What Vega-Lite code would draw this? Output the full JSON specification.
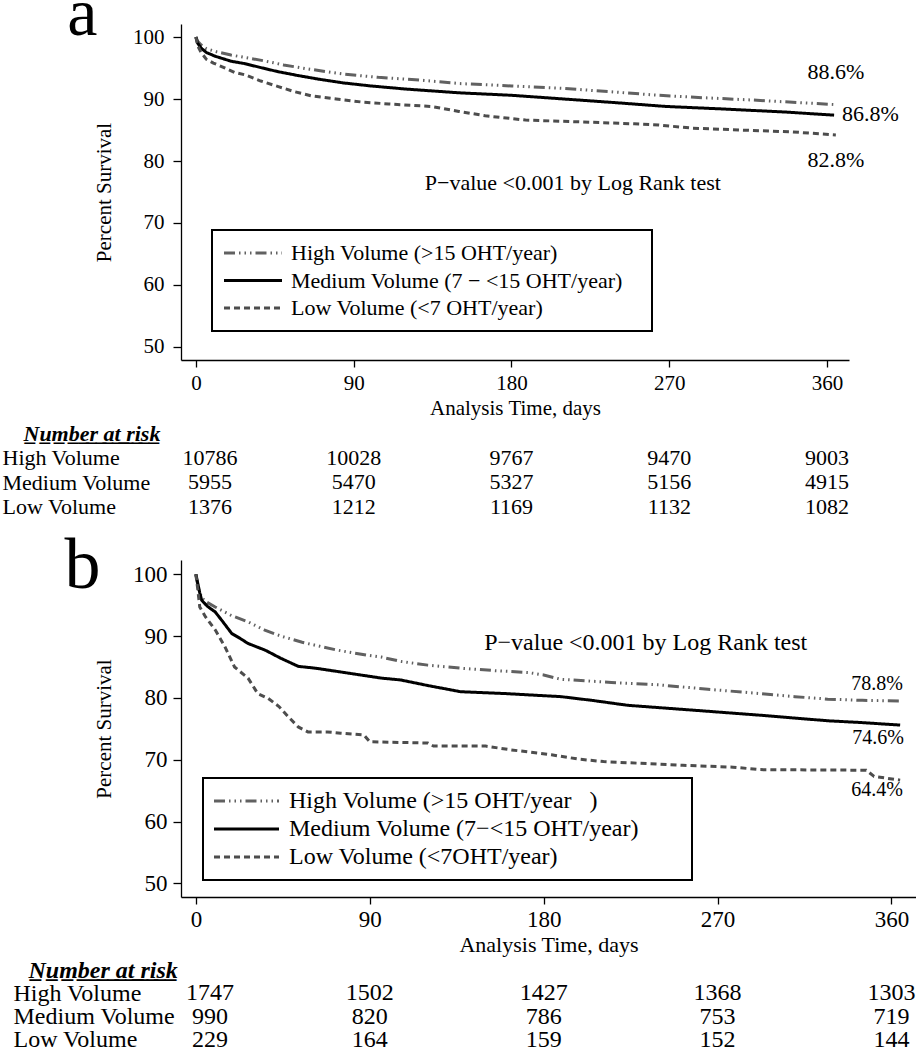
{
  "$schema": "https://vega.github.io/schema/vega-lite/v6.json",
  "padding": {"left": 2, "top": -19, "right": 0, "bottom": 0},
  "spacing": 3,
  "background": "white",
  "config": {
    "font": "Liberation Serif",
    "view": {"stroke": null},
    "axis": {"grid": false, "domainColor": "#000", "domainWidth": 1.3, "tickColor": "#000", "tickWidth": 1.3, "labelColor": "#000", "titleColor": "#000", "labelFont": "Liberation Serif", "titleFont": "Liberation Serif", "titleFontWeight": "normal", "labelFlush": false, "labelOverlap": false},
    "text": {"font": "Liberation Serif", "color": "#000"},
    "legend": {"labelFont": "Liberation Serif", "labelColor": "#000", "strokeColor": "#000", "fillColor": "#fff", "labelLimit": 0, "symbolStrokeWidth": 3, "orient": "none", "direction": "vertical", "symbolSize": 100}
  },
  "resolve": {
    "scale": {"x": "independent", "y": "independent", "color": "independent", "strokeDash": "independent"},
    "legend": {"color": "independent", "strokeDash": "independent"}
  },
  "datasets": {
    "curveA": [
      {"g": "High", "day": 0, "pct": 100}, {"g": "High", "day": 1, "pct": 99.3}, {"g": "High", "day": 3, "pct": 98.7}, {"g": "High", "day": 6, "pct": 98.1}, {"g": "High", "day": 12, "pct": 97.6}, {"g": "High", "day": 20, "pct": 97.1}, {"g": "High", "day": 30, "pct": 96.6}, {"g": "High", "day": 40, "pct": 96.1}, {"g": "High", "day": 50, "pct": 95.5}, {"g": "High", "day": 65, "pct": 94.8}, {"g": "High", "day": 85, "pct": 94.0}, {"g": "High", "day": 104, "pct": 93.5}, {"g": "High", "day": 130, "pct": 93.0}, {"g": "High", "day": 150, "pct": 92.5}, {"g": "High", "day": 180, "pct": 92.1}, {"g": "High", "day": 210, "pct": 91.7}, {"g": "High", "day": 240, "pct": 91.1}, {"g": "High", "day": 264, "pct": 90.6}, {"g": "High", "day": 290, "pct": 90.2}, {"g": "High", "day": 320, "pct": 89.8}, {"g": "High", "day": 345, "pct": 89.4}, {"g": "High", "day": 365, "pct": 89.1},
      {"g": "Medium", "day": 0, "pct": 100}, {"g": "Medium", "day": 1, "pct": 99.0}, {"g": "Medium", "day": 3, "pct": 98.2}, {"g": "Medium", "day": 6, "pct": 97.5}, {"g": "Medium", "day": 11, "pct": 96.9}, {"g": "Medium", "day": 20, "pct": 96.1}, {"g": "Medium", "day": 28, "pct": 95.7}, {"g": "Medium", "day": 38, "pct": 95.0}, {"g": "Medium", "day": 47, "pct": 94.4}, {"g": "Medium", "day": 58, "pct": 93.8}, {"g": "Medium", "day": 70, "pct": 93.2}, {"g": "Medium", "day": 84, "pct": 92.6}, {"g": "Medium", "day": 100, "pct": 92.1}, {"g": "Medium", "day": 120, "pct": 91.6}, {"g": "Medium", "day": 150, "pct": 91.0}, {"g": "Medium", "day": 180, "pct": 90.6}, {"g": "Medium", "day": 210, "pct": 90.0}, {"g": "Medium", "day": 240, "pct": 89.4}, {"g": "Medium", "day": 268, "pct": 88.8}, {"g": "Medium", "day": 300, "pct": 88.4}, {"g": "Medium", "day": 336, "pct": 87.9}, {"g": "Medium", "day": 364, "pct": 87.4},
      {"g": "Low", "day": 0, "pct": 100}, {"g": "Low", "day": 1, "pct": 98.6}, {"g": "Low", "day": 3, "pct": 97.5}, {"g": "Low", "day": 6, "pct": 96.4}, {"g": "Low", "day": 10, "pct": 95.8}, {"g": "Low", "day": 15, "pct": 95.2}, {"g": "Low", "day": 22, "pct": 94.3}, {"g": "Low", "day": 28, "pct": 93.9}, {"g": "Low", "day": 37, "pct": 92.9}, {"g": "Low", "day": 47, "pct": 92.0}, {"g": "Low", "day": 56, "pct": 91.2}, {"g": "Low", "day": 66, "pct": 90.5}, {"g": "Low", "day": 80, "pct": 90.0}, {"g": "Low", "day": 95, "pct": 89.5}, {"g": "Low", "day": 110, "pct": 89.2}, {"g": "Low", "day": 134, "pct": 88.8}, {"g": "Low", "day": 150, "pct": 88.0}, {"g": "Low", "day": 165, "pct": 87.3}, {"g": "Low", "day": 188, "pct": 86.6}, {"g": "Low", "day": 220, "pct": 86.3}, {"g": "Low", "day": 250, "pct": 86.0}, {"g": "Low", "day": 264, "pct": 85.8}, {"g": "Low", "day": 283, "pct": 85.3}, {"g": "Low", "day": 310, "pct": 85.0}, {"g": "Low", "day": 340, "pct": 84.7}, {"g": "Low", "day": 365, "pct": 84.2}
    ],
    "curveB": [
      {"g": "High", "day": 0, "pct": 100}, {"g": "High", "day": 0.5, "pct": 99}, {"g": "High", "day": 1.5, "pct": 97.5}, {"g": "High", "day": 3, "pct": 96.2}, {"g": "High", "day": 5, "pct": 95.6}, {"g": "High", "day": 10, "pct": 94.7}, {"g": "High", "day": 18, "pct": 93.4}, {"g": "High", "day": 27, "pct": 92.3}, {"g": "High", "day": 36, "pct": 90.9}, {"g": "High", "day": 44, "pct": 90.0}, {"g": "High", "day": 55, "pct": 89.0}, {"g": "High", "day": 62, "pct": 88.5}, {"g": "High", "day": 72, "pct": 87.8}, {"g": "High", "day": 79, "pct": 87.4}, {"g": "High", "day": 89, "pct": 86.9}, {"g": "High", "day": 96, "pct": 86.6}, {"g": "High", "day": 106, "pct": 85.9}, {"g": "High", "day": 120, "pct": 85.3}, {"g": "High", "day": 137, "pct": 84.8}, {"g": "High", "day": 155, "pct": 84.4}, {"g": "High", "day": 172, "pct": 84.1}, {"g": "High", "day": 180, "pct": 83.7}, {"g": "High", "day": 189, "pct": 83.0}, {"g": "High", "day": 215, "pct": 82.5}, {"g": "High", "day": 240, "pct": 82.1}, {"g": "High", "day": 265, "pct": 81.4}, {"g": "High", "day": 292, "pct": 80.7}, {"g": "High", "day": 310, "pct": 80.2}, {"g": "High", "day": 327, "pct": 79.8}, {"g": "High", "day": 345, "pct": 79.6}, {"g": "High", "day": 364.5, "pct": 79.5},
      {"g": "Medium", "day": 0, "pct": 100}, {"g": "Medium", "day": 1, "pct": 98.5}, {"g": "Medium", "day": 2, "pct": 97.0}, {"g": "Medium", "day": 3, "pct": 95.8}, {"g": "Medium", "day": 6, "pct": 94.8}, {"g": "Medium", "day": 10, "pct": 93.9}, {"g": "Medium", "day": 14, "pct": 92.3}, {"g": "Medium", "day": 18.6, "pct": 90.4}, {"g": "Medium", "day": 23, "pct": 89.6}, {"g": "Medium", "day": 27, "pct": 88.8}, {"g": "Medium", "day": 36, "pct": 87.7}, {"g": "Medium", "day": 44, "pct": 86.4}, {"g": "Medium", "day": 53, "pct": 85.1}, {"g": "Medium", "day": 62, "pct": 84.8}, {"g": "Medium", "day": 79, "pct": 84.0}, {"g": "Medium", "day": 96, "pct": 83.2}, {"g": "Medium", "day": 106, "pct": 82.9}, {"g": "Medium", "day": 120, "pct": 82.0}, {"g": "Medium", "day": 137, "pct": 81.0}, {"g": "Medium", "day": 160, "pct": 80.7}, {"g": "Medium", "day": 189, "pct": 80.2}, {"g": "Medium", "day": 205, "pct": 79.6}, {"g": "Medium", "day": 223.5, "pct": 78.8}, {"g": "Medium", "day": 258, "pct": 78.0}, {"g": "Medium", "day": 292, "pct": 77.2}, {"g": "Medium", "day": 327, "pct": 76.3}, {"g": "Medium", "day": 345, "pct": 76.0}, {"g": "Medium", "day": 364.5, "pct": 75.6},
      {"g": "Low", "day": 0, "pct": 100}, {"g": "Low", "day": 1, "pct": 97.5}, {"g": "Low", "day": 2, "pct": 94.7}, {"g": "Low", "day": 5, "pct": 93.1}, {"g": "Low", "day": 10, "pct": 91.0}, {"g": "Low", "day": 15, "pct": 88.3}, {"g": "Low", "day": 20, "pct": 85.0}, {"g": "Low", "day": 27, "pct": 83.2}, {"g": "Low", "day": 32, "pct": 80.7}, {"g": "Low", "day": 37.5, "pct": 79.9}, {"g": "Low", "day": 43, "pct": 78.6}, {"g": "Low", "day": 48, "pct": 76.9}, {"g": "Low", "day": 53, "pct": 75.3}, {"g": "Low", "day": 58, "pct": 74.5}, {"g": "Low", "day": 68, "pct": 74.5}, {"g": "Low", "day": 75, "pct": 74.3}, {"g": "Low", "day": 87, "pct": 74.0}, {"g": "Low", "day": 90, "pct": 72.9}, {"g": "Low", "day": 120, "pct": 72.7}, {"g": "Low", "day": 123, "pct": 72.2}, {"g": "Low", "day": 150, "pct": 72.2}, {"g": "Low", "day": 163, "pct": 71.6}, {"g": "Low", "day": 184, "pct": 70.8}, {"g": "Low", "day": 198, "pct": 70.1}, {"g": "Low", "day": 211, "pct": 69.7}, {"g": "Low", "day": 252, "pct": 69.1}, {"g": "Low", "day": 278, "pct": 68.8}, {"g": "Low", "day": 292, "pct": 68.4}, {"g": "Low", "day": 347, "pct": 68.3}, {"g": "Low", "day": 351, "pct": 67.3}, {"g": "Low", "day": 364.5, "pct": 66.7}
    ],
    "pctA": [
      {"day": 365, "pct": 94.3, "label": "88.6%"},
      {"day": 384.7, "pct": 87.6, "label": "86.8%"},
      {"day": 365, "pct": 80.2, "label": "82.8%"}
    ],
    "pctB": [
      {"day": 352.6, "pct": 82.2, "label": "78.8%"},
      {"day": 353.1, "pct": 73.5, "label": "74.6%"},
      {"day": 352.6, "pct": 65.1, "label": "64.4%"}
    ],
    "noteA": [{"day": 215, "pct": 76.45, "label": "P−value <0.001 by Log Rank test"}],
    "noteB": [{"day": 232.8, "pct": 88.85, "label": "P−value <0.001 by Log Rank test"}],
    "riskA": [
      {"row": "High Volume", "day": 0, "n": 10786}, {"row": "High Volume", "day": 90, "n": 10028}, {"row": "High Volume", "day": 180, "n": 9767}, {"row": "High Volume", "day": 270, "n": 9470}, {"row": "High Volume", "day": 360, "n": 9003},
      {"row": "Medium Volume", "day": 0, "n": 5955}, {"row": "Medium Volume", "day": 90, "n": 5470}, {"row": "Medium Volume", "day": 180, "n": 5327}, {"row": "Medium Volume", "day": 270, "n": 5156}, {"row": "Medium Volume", "day": 360, "n": 4915},
      {"row": "Low Volume", "day": 0, "n": 1376}, {"row": "Low Volume", "day": 90, "n": 1212}, {"row": "Low Volume", "day": 180, "n": 1169}, {"row": "Low Volume", "day": 270, "n": 1132}, {"row": "Low Volume", "day": 360, "n": 1082}
    ],
    "riskB": [
      {"row": "High Volume", "day": 0, "n": 1747}, {"row": "High Volume", "day": 90, "n": 1502}, {"row": "High Volume", "day": 180, "n": 1427}, {"row": "High Volume", "day": 270, "n": 1368}, {"row": "High Volume", "day": 360, "n": 1303},
      {"row": "Medium Volume", "day": 0, "n": 990}, {"row": "Medium Volume", "day": 90, "n": 820}, {"row": "Medium Volume", "day": 180, "n": 786}, {"row": "Medium Volume", "day": 270, "n": 753}, {"row": "Medium Volume", "day": 360, "n": 719},
      {"row": "Low Volume", "day": 0, "n": 229}, {"row": "Low Volume", "day": 90, "n": 164}, {"row": "Low Volume", "day": 180, "n": 159}, {"row": "Low Volume", "day": 270, "n": 152}, {"row": "Low Volume", "day": 360, "n": 144}
    ]
  },
  "vconcat": [
    {
      "width": 668,
      "height": 336,
      "title": {"text": "a", "orient": "left", "angle": 0, "anchor": "end", "frame": "group", "align": "right", "baseline": "alphabetic", "fontSize": 68, "fontWeight": "normal", "font": "Liberation Serif", "color": "#000", "offset": -34, "dy": 11},
      "encoding": {
        "x": {"field": "day", "type": "quantitative", "scale": {"domain": [-8.5, 372.5], "nice": false, "zero": false},
              "axis": {"title": "Analysis Time, days", "values": [0, 90, 180, 270, 360], "tickSize": 7, "labelPadding": 5, "labelFontSize": 21, "titleFontSize": 21, "titlePadding": 4}},
        "y": {"field": "pct", "type": "quantitative", "scale": {"domain": [47.9, 102.1], "nice": false, "zero": false},
              "axis": {"title": "Percent Survival", "values": [50, 60, 70, 80, 90, 100], "tickSize": 8, "labelPadding": 9, "labelFontSize": 21, "titleFontSize": 21, "titlePadding": 18}}
      },
      "layer": [
        {
          "data": {"name": "curveA"},
          "mark": {"type": "line", "strokeWidth": 3},
          "encoding": {
            "color": {"field": "g", "type": "nominal", "scale": {"domain": ["High", "Medium", "Low"], "range": ["#616161", "#000000", "#4d4d4d"]},
              "legend": {"title": null, "legendX": 31, "legendY": 206, "labelFontSize": 22, "symbolType": "M-5.8,0H5.8", "symbolOffset": 18, "labelOffset": 27, "padding": 12, "rowPadding": 5.5,
                "encode": {"legend": {"update": {"strokeWidth": {"value": 2}}}},
                "labelExpr": "(datum.label == 'High' ? 'High Volume (>15 OHT/year)' : datum.label == 'Medium' ? 'Medium Volume (7 − <15 OHT/year)' : 'Low Volume (<7 OHT/year)') + '\u00a0\u00a0\u00a0\u200b'"}},
            "strokeDash": {"field": "g", "type": "nominal", "scale": {"domain": ["High", "Medium", "Low"], "range": [[11, 4, 1.5, 4, 1.5, 4, 1.5, 4], [1, 0], [6, 4]]},
              "legend": {"title": null, "legendX": 31, "legendY": 206, "labelFontSize": 22, "symbolType": "M-5.8,0H5.8", "symbolOffset": 18, "labelOffset": 27, "padding": 12, "rowPadding": 5.5,
                "encode": {"legend": {"update": {"strokeWidth": {"value": 2}}}},
                "labelExpr": "(datum.label == 'High' ? 'High Volume (>15 OHT/year)' : datum.label == 'Medium' ? 'Medium Volume (7 − <15 OHT/year)' : 'Low Volume (<7 OHT/year)') + '\u00a0\u00a0\u00a0\u200b'"}}
          }
        },
        {
          "data": {"name": "pctA"},
          "mark": {"type": "text", "fontSize": 22, "align": "center", "baseline": "middle"},
          "encoding": {"text": {"field": "label", "type": "nominal"}}
        },
        {
          "data": {"name": "noteA"},
          "mark": {"type": "text", "fontSize": 22, "align": "center", "baseline": "middle"},
          "encoding": {"text": {"field": "label", "type": "nominal"}}
        }
      ]
    },
    {
      "width": 668,
      "height": 106,
      "data": {"name": "riskA"},
      "encoding": {
        "x": {"field": "day", "type": "quantitative", "scale": {"domain": [-8.5, 372.5], "nice": false, "zero": false}, "axis": null},
        "y": {"field": "row", "type": "nominal", "scale": {"type": "point", "domain": ["Number at risk", "High Volume", "Medium Volume", "Low Volume"], "padding": 0.663, "align": 0.377},
              "axis": {"title": null, "domain": false, "ticks": false, "tickSize": 0, "labelAlign": "left", "labelBaseline": "middle", "labelFontSize": 22, "labelLimit": 0,
                "labelPadding": {"condition": {"test": "datum.value == 'Number at risk'", "value": 158}, "value": 179},
                "labelFontWeight": {"condition": {"test": "datum.value == 'Number at risk'", "value": "bold"}, "value": "normal"},
                "labelFontStyle": {"condition": {"test": "datum.value == 'Number at risk'", "value": "italic"}, "value": "normal"},
                "labelExpr": "datum.value == 'Number at risk' ? 'N\u0332u\u0332m\u0332b\u0332e\u0332r\u0332 \u0332a\u0332t\u0332 \u0332r\u0332i\u0332s\u0332k\u0332' : datum.value"}},
        "text": {"field": "n", "type": "quantitative", "format": "d"}
      },
      "layer": [
        {"transform": [{"filter": "datum.day == 0"}], "mark": {"type": "text", "fontSize": 22, "dx": 14}},
        {"transform": [{"filter": "datum.day > 0"}], "mark": {"type": "text", "fontSize": 22}}
      ]
    },
    {
      "width": 735,
      "height": 337,
      "title": {"text": "b", "orient": "left", "angle": 0, "anchor": "end", "frame": "group", "align": "right", "baseline": "alphabetic", "fontSize": 72, "fontWeight": "normal", "font": "Liberation Serif", "color": "#000", "offset": -43, "dy": 28},
      "encoding": {
        "x": {"field": "day", "type": "quantitative", "scale": {"domain": [-7.7, 372.7], "nice": false, "zero": false},
              "axis": {"title": "Analysis Time, days", "values": [0, 90, 180, 270, 360], "tickSize": 7, "labelPadding": 4, "labelFontSize": 23, "titleFontSize": 22, "titlePadding": 3}},
        "y": {"field": "pct", "type": "quantitative", "scale": {"domain": [47.8, 102.3], "nice": false, "zero": false},
              "axis": {"title": "Percent Survival", "values": [50, 60, 70, 80, 90, 100], "tickSize": 8, "labelPadding": 6, "labelFontSize": 23, "titleFontSize": 21, "titlePadding": 18}}
      },
      "layer": [
        {
          "data": {"name": "curveB"},
          "mark": {"type": "line", "strokeWidth": 3},
          "encoding": {
            "color": {"field": "g", "type": "nominal", "scale": {"domain": ["High", "Medium", "Low"], "range": ["#616161", "#000000", "#4d4d4d"]},
              "legend": {"title": null, "legendX": 22, "legendY": 218, "labelFontSize": 24, "symbolType": "M-6.5,0H6.5", "symbolOffset": 20.5, "labelOffset": 30.5, "padding": 11, "rowPadding": 4,
                "encode": {"legend": {"update": {"strokeWidth": {"value": 2}}}},
                "labelExpr": "(datum.label == 'High' ? 'High Volume (>15 OHT/year\u00a0\u00a0\u00a0)' : datum.label == 'Medium' ? 'Medium Volume (7−<15 OHT/year)' : 'Low Volume (<7OHT/year)') + '\u00a0\u00a0\u00a0\u00a0\u00a0\u00a0\u00a0\u200b'"}},
            "strokeDash": {"field": "g", "type": "nominal", "scale": {"domain": ["High", "Medium", "Low"], "range": [[11, 4, 1.5, 4, 1.5, 4, 1.5, 4], [1, 0], [6, 4]]},
              "legend": {"title": null, "legendX": 22, "legendY": 218, "labelFontSize": 24, "symbolType": "M-6.5,0H6.5", "symbolOffset": 20.5, "labelOffset": 30.5, "padding": 11, "rowPadding": 4,
                "encode": {"legend": {"update": {"strokeWidth": {"value": 2}}}},
                "labelExpr": "(datum.label == 'High' ? 'High Volume (>15 OHT/year\u00a0\u00a0\u00a0)' : datum.label == 'Medium' ? 'Medium Volume (7−<15 OHT/year)' : 'Low Volume (<7OHT/year)') + '\u00a0\u00a0\u00a0\u00a0\u00a0\u00a0\u00a0\u200b'"}}
          }
        },
        {
          "data": {"name": "pctB"},
          "mark": {"type": "text", "fontSize": 20, "align": "center", "baseline": "middle"},
          "encoding": {"text": {"field": "label", "type": "nominal"}}
        },
        {
          "data": {"name": "noteB"},
          "mark": {"type": "text", "fontSize": 24, "align": "center", "baseline": "middle"},
          "encoding": {"text": {"field": "label", "type": "nominal"}}
        }
      ]
    },
    {
      "width": 735,
      "height": 90,
      "data": {"name": "riskB"},
      "encoding": {
        "x": {"field": "day", "type": "quantitative", "scale": {"domain": [-7.7, 372.7], "nice": false, "zero": false}, "axis": null},
        "y": {"field": "row", "type": "nominal", "scale": {"type": "point", "domain": ["Number at risk", "High Volume", "Medium Volume", "Low Volume"], "padding": 0.45, "align": 0.5},
              "axis": {"title": null, "domain": false, "ticks": false, "tickSize": 0, "labelAlign": "left", "labelBaseline": "middle", "labelFontSize": 24, "labelLimit": 0,
                "labelPadding": {"condition": {"test": "datum.value == 'Number at risk'", "value": 153}, "value": 168},
                "labelFontWeight": {"condition": {"test": "datum.value == 'Number at risk'", "value": "bold"}, "value": "normal"},
                "labelFontStyle": {"condition": {"test": "datum.value == 'Number at risk'", "value": "italic"}, "value": "normal"},
                "labelExpr": "datum.value == 'Number at risk' ? 'N\u0332u\u0332m\u0332b\u0332e\u0332r\u0332 \u0332a\u0332t\u0332 \u0332r\u0332i\u0332s\u0332k\u0332' : datum.value"}},
        "text": {"field": "n", "type": "quantitative", "format": "d"}
      },
      "layer": [
        {"transform": [{"filter": "datum.day == 0"}], "mark": {"type": "text", "fontSize": 24, "dx": 14}},
        {"transform": [{"filter": "datum.day > 0"}], "mark": {"type": "text", "fontSize": 24}}
      ]
    }
  ]
}
